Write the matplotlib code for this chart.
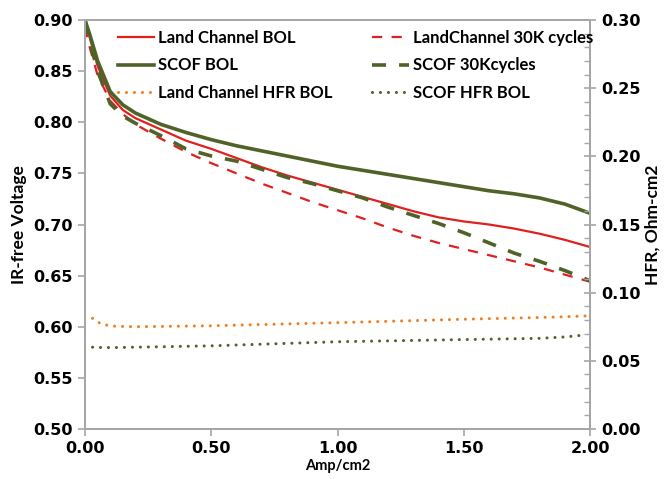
import matplotlib.pyplot as plt
from matplotlib.ticker import MultipleLocator

# current density, Amp/cm2
amps = [0.0, 0.02, 0.05, 0.1, 0.15, 0.2, 0.3, 0.4, 0.5, 0.6, 0.7, 0.8,
        0.9, 1.0, 1.1, 1.2, 1.3, 1.4, 1.5, 1.6, 1.7, 1.8, 1.9, 2.0]

# IR-free voltage
land_bol = [0.900, 0.882, 0.855, 0.826, 0.812, 0.804, 0.793, 0.782, 0.774, 0.765, 0.756, 0.748,
            0.741, 0.734, 0.727, 0.720, 0.713, 0.707, 0.703, 0.700, 0.696, 0.691, 0.685, 0.678]
scof_bol = [0.900, 0.885, 0.860, 0.830, 0.817, 0.809, 0.798, 0.790, 0.783, 0.777, 0.772, 0.767,
            0.762, 0.757, 0.753, 0.749, 0.745, 0.741, 0.737, 0.733, 0.730, 0.726, 0.720, 0.711]
land_30k = [0.893, 0.872, 0.846, 0.821, 0.808, 0.798, 0.784, 0.771, 0.760, 0.750, 0.740, 0.731,
            0.722, 0.714, 0.706, 0.697, 0.689, 0.682, 0.676, 0.670, 0.664, 0.658, 0.651, 0.644]
scof_30k = [0.900, 0.878, 0.850, 0.818, 0.806, 0.799, 0.787, 0.774, 0.767, 0.762, 0.754, 0.746,
            0.740, 0.733, 0.726, 0.717, 0.709, 0.701, 0.692, 0.682, 0.672, 0.664, 0.655, 0.645]

# HFR, Ohm-cm2
hfr_amps = [0.03, 0.06, 0.1, 0.2, 0.5, 1.0, 1.5, 1.8, 1.9, 1.98]
land_hfr = [0.0812, 0.0775, 0.0755, 0.0750, 0.0757, 0.0780, 0.0805, 0.0818, 0.0823, 0.0829]
scof_hfr = [0.0600, 0.0598, 0.0597, 0.0600, 0.0610, 0.0640, 0.0656, 0.0665, 0.0675, 0.0690]

RED = "#E0201E"
GREEN = "#4F6228"
ORANGE = "#F07D1E"
SPINE = "#A6A6A6"
LABEL_FONT = "Lato"

fig = plt.figure(figsize=(6.67, 4.79), dpi=100)
ax = fig.add_axes([0.1274, 0.1044, 0.7572, 0.8538])
ax2 = ax.twinx()

h1, = ax.plot(amps, land_bol, color=RED, lw=1.6, label="Land Channel BOL")
h2, = ax.plot(amps, scof_bol, color=GREEN, lw=2.6, label="SCOF BOL")
h4, = ax.plot(amps, land_30k, color=RED, lw=1.6, ls=(0, (4.6, 4.2)),
              label="LandChannel 30K cycles")
h5, = ax.plot(amps, scof_30k, color=GREEN, lw=2.6, ls=(0, (3.9, 3.6)),
              label="SCOF 30Kcycles")
h3, = ax2.plot(hfr_amps, land_hfr, color=ORANGE, lw=2.2, ls=(0, (0.01, 2.6)),
               dash_capstyle="round", label="Land Channel HFR BOL")
h6, = ax2.plot(hfr_amps, scof_hfr, color=GREEN, lw=2.2, ls=(0, (0.01, 2.6)),
               dash_capstyle="round", label="SCOF HFR BOL")

ax.set_xlim(0, 2.0)
ax.set_ylim(0.5, 0.9)
ax2.set_ylim(0, 0.3)
ax.xaxis.set_major_locator(MultipleLocator(0.5))
ax.yaxis.set_major_locator(MultipleLocator(0.05))
ax2.yaxis.set_major_locator(MultipleLocator(0.05))
ax2.yaxis.set_minor_locator(MultipleLocator(0.01))
ax.xaxis.set_major_formatter("{x:.2f}")
ax.yaxis.set_major_formatter("{x:.2f}")
ax2.yaxis.set_major_formatter("{x:.2f}")

for a in (ax, ax2):
    for s in a.spines.values():
        s.set_color(SPINE)
        s.set_linewidth(1.3)
ax.tick_params(axis="both", which="major", length=5, width=1.2, color=SPINE,
               labelsize=11.5, pad=4)
ax2.tick_params(axis="y", which="major", direction="inout", length=8, width=1.2,
                color=SPINE, labelsize=11.5, pad=4)
ax2.tick_params(axis="y", which="minor", direction="in", length=4, width=1.0, color=SPINE)
for lab in ax.get_xticklabels() + ax.get_yticklabels() + ax2.get_yticklabels():
    lab.set_fontweight("bold")

ax.set_xlabel("Amp/cm2", fontfamily=LABEL_FONT, fontweight="bold", fontsize=10.5, labelpad=2)
ax.set_ylabel("IR-free Voltage", fontfamily=LABEL_FONT, fontweight="bold", fontsize=12.5,
              labelpad=4)
ax2.set_ylabel("HFR, Ohm-cm2", fontfamily=LABEL_FONT, fontweight="bold", fontsize=12.5,
               labelpad=3)

leg = ax2.legend(handles=[h1, h2, h3, h4, h5, h6], ncol=2, loc="upper left",
                 bbox_to_anchor=(0.035, 1.012), frameon=False, handlelength=2.2,
                 handletextpad=0.25, columnspacing=2.35, labelspacing=0.68,
                 prop={"family": LABEL_FONT, "weight": "bold", "size": 12})

fig.savefig("out.png", dpi=100)
